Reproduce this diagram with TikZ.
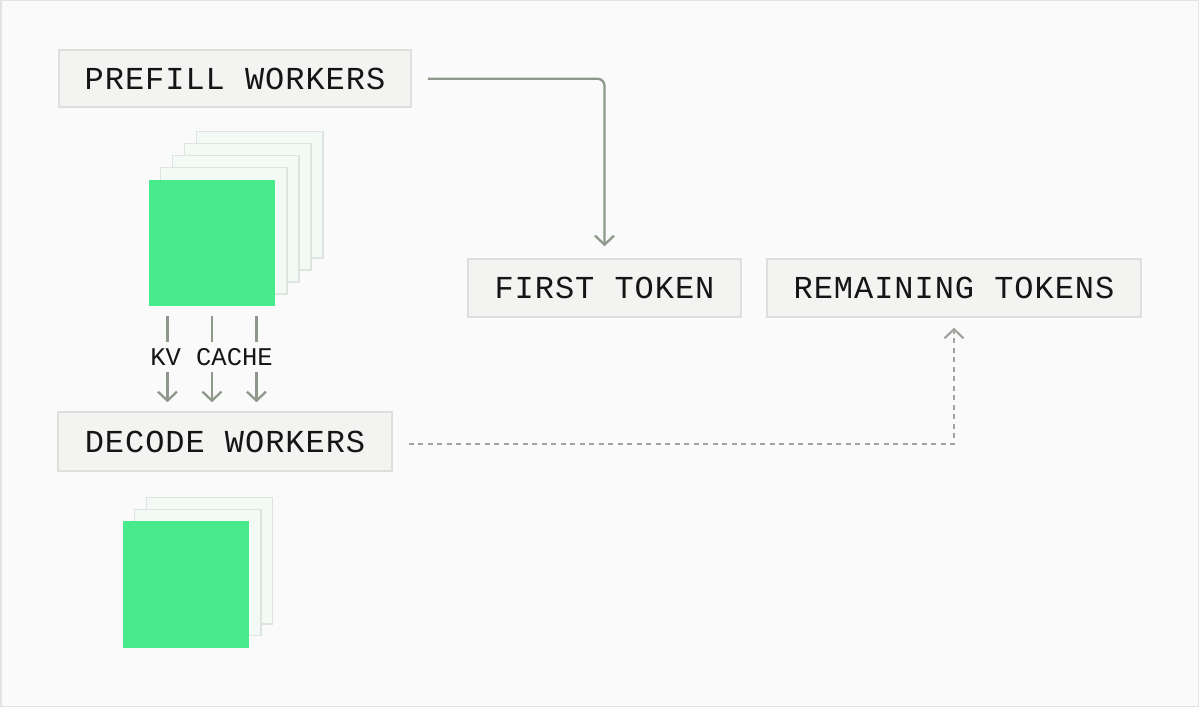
\documentclass[tikz,border=0pt]{standalone}
\usepackage{fontspec}
\usetikzlibrary{arrows.meta}
\newfontfamily\lblfont{Liberation Mono}[LetterSpace=3]
\newfontfamily\kvfont{Liberation Mono}
\definecolor{bgc}{HTML}{FAFAFA}
\definecolor{framec}{HTML}{E3E3E3}
\definecolor{boxfill}{HTML}{F3F4F2}
\definecolor{boxline}{HTML}{DCDFDB}
\definecolor{pagefill}{HTML}{F3FAF5}
\definecolor{pageline}{HTML}{DDE3DE}
\definecolor{greenc}{HTML}{48EB8C}
\definecolor{connc}{HTML}{8E998B}
\definecolor{dashc}{HTML}{A0A49D}
\definecolor{txtc}{HTML}{151515}
\tikzset{
  labelbox/.style={rectangle, draw=boxline, fill=boxfill, line width=1.5pt,
    inner sep=0pt, text=txtc, font=\lblfont\fontsize{32}{36}\selectfont},
  pagebox/.style={draw=pageline, fill=pagefill, line width=1.2pt},
  greenbox/.style={rectangle, fill=greenc, inner sep=0pt, minimum size=126.5pt},
  conn/.style={draw=connc, line width=2.3pt},
  tipa/.style={-{Straight Barb[length=9pt,width=19pt]}},
  dconn/.style={draw=dashc, line width=2.2pt, dash pattern=on 5pt off 4.5pt},
  kvlabel/.style={inner sep=0pt, minimum height=30pt, text=txtc,
    font=\kvfont\fontsize{25.5}{28}\selectfont}
}
\begin{document}
\begin{tikzpicture}[x=1pt,y=-1pt]
\path[use as bounding box] (0,0) rectangle (1200,708);
\draw[framec, fill=bgc, line width=1.5pt] (0.75,0.75) rectangle (1198.5,706.5);

% label boxes
\node[labelbox, minimum width=352pt, minimum height=57pt] (prefill) at (235,78.75) {PREFILL WORKERS};
\node[labelbox, minimum width=273pt, minimum height=58pt] (first) at (604.5,288) {FIRST TOKEN};
\node[labelbox, minimum width=374pt, minimum height=58pt] (remaining) at (954,288) {REMAINING TOKENS};
\node[labelbox, minimum width=334pt, minimum height=59pt] (decode) at (225,441.5) {DECODE WORKERS};

% prefill stack
\foreach \k in {4,3,2,1}
  \draw[pagebox] ({148.5+12*\k},{179.5-12*\k}) rectangle ++(126.5,126.5);
\node[greenbox, anchor=north west] (pgreen) at (148.5,179.5) {};

% decode stack
\foreach \k in {2,1}
  \draw[pagebox] ({122.3+11.9*\k},{521-11.9*\k}) rectangle ++(126.7,126.7);
\node[greenbox, minimum size=126.7pt, anchor=north west] (dgreen) at (122.3,521) {};

% KV cache arrows
\node[kvlabel] (kv) at (211.5,357) {KV CACHE};
\coordinate (k1) at ([xshift=-44.5pt,yshift=-10pt]pgreen.south);
\coordinate (k2) at ([yshift=-10pt]pgreen.south);
\coordinate (k3) at ([xshift=44.5pt,yshift=-10pt]pgreen.south);
\foreach \c in {k1,k2,k3}{
  \draw[conn] (\c) -- (\c |- kv.north);
  \draw[conn, tipa, shorten >=9pt] (\c |- kv.south) -- (\c |- decode.north);
}

% prefill -> first token
\draw[conn, tipa, rounded corners=7pt] ([xshift=16pt]prefill.east) -| ([yshift=12pt]first.north);

% decode -> remaining tokens
\draw[dconn, tipa] ([xshift=16pt,yshift=-2.5pt]decode.east) -| ([yshift=-10pt]remaining.south);
\end{tikzpicture}
\end{document}
